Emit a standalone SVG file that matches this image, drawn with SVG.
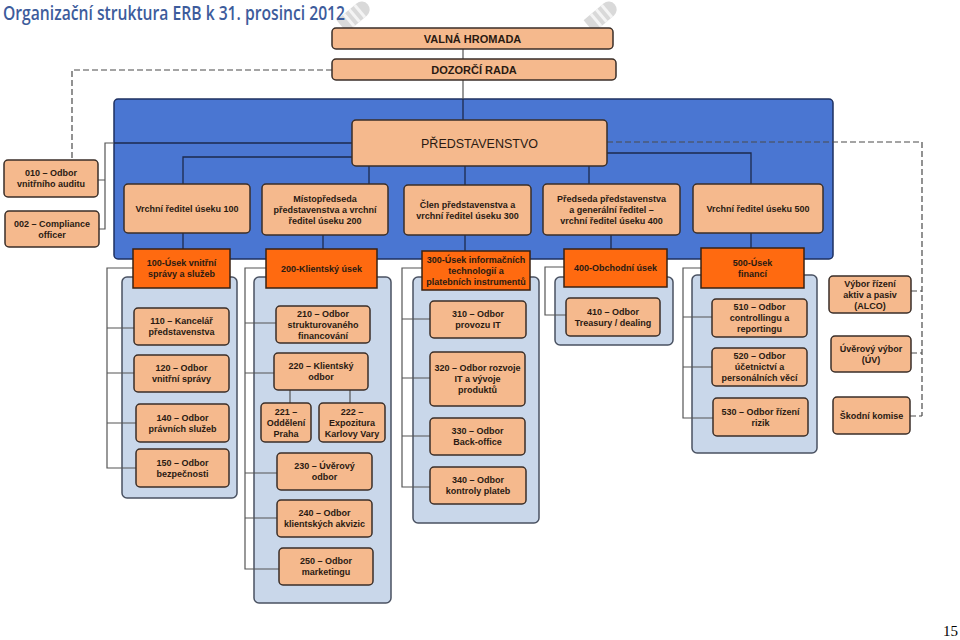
<svg xmlns="http://www.w3.org/2000/svg" width="960" height="640" viewBox="0 0 960 640">
<style>
.bx{fill:#f5b98d;stroke:#3a2e28;stroke-width:1.5}
.or{fill:#ff6a10;stroke:#3a2212;stroke-width:1.5}
.lb{fill:#c9d7ea;stroke:#4a5262;stroke-width:1.5}
.t{font-family:"Liberation Sans",Arial,sans-serif;font-size:9px;font-weight:bold;fill:#2a1a12;text-anchor:middle}
.tb{font-family:"Liberation Sans",Arial,sans-serif;font-size:11px;font-weight:bold;fill:#2a1a12;text-anchor:middle}
.nv{fill:none;stroke:#1c2a4e;stroke-width:1.3}
.gy{fill:none;stroke:#555;stroke-width:1.2}
.ds{fill:none;stroke:#4a4a4a;stroke-width:1.2;stroke-dasharray:6,3}
</style>
<rect width="960" height="640" fill="#fff"/>
<g id="decor" fill="#d9d9d9">
<g transform="translate(354,16) rotate(-40)"><path d="M-16,-8H10A8,8 0 0 1 10,8H-16Z"/><rect x="-8" y="-8" width="3" height="16" fill="#f4f4f4"/><rect x="-1" y="-8" width="3" height="16" fill="#f4f4f4"/><rect x="6" y="-8" width="3" height="16" fill="#f4f4f4"/></g>
<g transform="translate(601,16) rotate(-40)"><path d="M-16,-8H10A8,8 0 0 1 10,8H-16Z"/><rect x="-8" y="-8" width="3" height="16" fill="#f4f4f4"/><rect x="-1" y="-8" width="3" height="16" fill="#f4f4f4"/><rect x="6" y="-8" width="3" height="16" fill="#f4f4f4"/></g>
</g>
<text x="3" y="20" font-family="'Open Sans','Noto Sans',sans-serif" font-size="19" font-weight="600" fill="#3d5c9c" textLength="342" lengthAdjust="spacingAndGlyphs">Organizační struktura ERB k 31. prosinci 2012</text>
<text x="958" y="636" font-family="'Liberation Serif',serif" font-size="15" fill="#000" text-anchor="end">15</text>

<g id="frames">
<rect id="board-frame" x="114" y="99" width="719" height="160" rx="4" fill="#4a76d2" stroke="#1e3060" stroke-width="1.5"/>
<rect id="col100" class="lb" x="122" y="277" width="115" height="221" rx="5"/>
<rect id="col200" class="lb" x="254" y="277" width="137" height="326" rx="5"/>
<rect id="col300" class="lb" x="413" y="277" width="126" height="246" rx="5"/>
<rect id="col400" class="lb" x="555" y="277" width="118" height="68" rx="5"/>
<rect id="col500" class="lb" x="692" y="275" width="125" height="178" rx="5"/>
</g>

<g id="connectors">
<path class="gy" d="M463,49V59M463,80V99"/>
<path class="nv" d="M463,99V120"/>
<path class="nv" d="M352,143H114"/>
<path class="gy" d="M114,143H105V229H99M105,180H98"/>
<path class="nv" d="M352,157H183V184M369,166V184M465,166V185M589,166V184M607,153H751V184"/>
<path class="nv" d="M183,233V249M323,235V249M465,235V251M611,235V249M751,233V248"/>
<path class="ds" d="M332,70H72V160"/>
<path class="ds" d="M607,142H922V416M911,291H922M911,353H922M910,416H922"/>
<path class="gy" d="M133,268H107V468H136M107,328H134M107,373H134M107,423H136"/>
<path class="gy" d="M266,268H245V569H279M245,323H276M245,373H274M245,473H277M245,518H277M290,390V403M350,390V403"/>
<path class="gy" d="M422,268H402V487H430M402,319H430M402,378H430M402,436H430"/>
<path class="gy" d="M564,267H545V315H566"/>
<path class="gy" d="M701,268H683V418H713M683,317H712M683,367H712"/>
</g>

<g id="valna-hromada"><rect class="bx" x="332" y="28" width="281" height="21" rx="4"/><text class="tb" x="472.5" y="42.5">VALNÁ HROMADA</text></g>
<g id="dozorci-rada"><rect class="bx" x="332" y="59" width="284" height="21" rx="4"/><text class="tb" x="474" y="73.5">DOZORČÍ RADA</text></g>
<g id="predstavenstvo"><rect class="bx" x="352" y="120" width="255" height="46" rx="4"/><text x="479.5" y="147.5" font-family="'Liberation Sans',Arial,sans-serif" font-size="12.5" fill="#2a1a12" text-anchor="middle">PŘEDSTAVENSTVO</text></g>

<g id="n010"><rect class="bx" x="4" y="160" width="94" height="37" rx="4"/><text class="t" x="51" y="176.2">010 –  Odbor<tspan x="51" dy="11">vnitřního auditu</tspan></text></g>
<g id="n002"><rect class="bx" x="5" y="211" width="94" height="36" rx="4"/><text class="t" x="52" y="226.7">002 – Compliance<tspan x="52" dy="11">officer</tspan></text></g>

<g id="r100"><rect class="bx" x="124" y="184" width="126" height="49" rx="4"/><text class="t" x="187" y="211.7">Vrchní ředitel úseku 100</text></g>
<g id="r200"><rect class="bx" x="262" y="184" width="126" height="51" rx="4"/><text class="t" x="325" y="201.7">Místopředseda<tspan x="325" dy="11">představenstva a vrchní</tspan><tspan x="325" dy="11">ředitel úseku 200</tspan></text></g>
<g id="r300"><rect class="bx" x="404" y="185" width="127" height="50" rx="4"/><text class="t" x="467.5" y="207.7">Člen představenstva a<tspan x="467.5" dy="11">vrchní ředitel úseku 300</tspan></text></g>
<g id="r400"><rect class="bx" x="543" y="184" width="137" height="51" rx="4"/><text class="t" x="611.5" y="201.7">Předseda představenstva<tspan x="611.5" dy="11">a generální ředitel –</tspan><tspan x="611.5" dy="11">vrchní ředitel úseku 400</tspan></text></g>
<g id="r500"><rect class="bx" x="693" y="184" width="130" height="49" rx="4"/><text class="t" x="758" y="211.7">Vrchní ředitel úseku 500</text></g>

<g id="u100"><rect class="or" x="133" y="249" width="97" height="39"/><text class="t" x="181.5" y="266.2">100-Úsek vnitřní<tspan x="181.5" dy="11">správy a služeb</tspan></text></g>
<g id="u200"><rect class="or" x="266" y="249" width="111" height="39"/><text class="t" x="321.5" y="271.7">200-Klientský úsek</text></g>
<g id="u300"><rect class="or" x="422" y="251" width="108" height="39"/><text class="t" x="476" y="262.7">300-Úsek informačních<tspan x="476" dy="11">technologií a</tspan><tspan x="476" dy="11">platebních instrumentů</tspan></text></g>
<g id="u400"><rect class="or" x="564" y="249" width="103" height="38"/><text class="t" x="615.5" y="271.2">400-Obchodní úsek</text></g>
<g id="u500"><rect class="or" x="701" y="248" width="103" height="40"/><text class="t" x="752.5" y="265.7">500-Úsek<tspan x="752.5" dy="11">financí</tspan></text></g>

<g id="n110"><rect class="bx" x="134" y="308" width="95" height="37" rx="4"/><text class="t" x="181.5" y="324.2">110 – Kancelář<tspan x="181.5" dy="11">představenstva</tspan></text></g>
<g id="n120"><rect class="bx" x="134" y="355" width="95" height="37" rx="4"/><text class="t" x="181.5" y="371.2">120 – Odbor<tspan x="181.5" dy="11">vnitřní správy</tspan></text></g>
<g id="n140"><rect class="bx" x="136" y="404" width="93" height="38" rx="4"/><text class="t" x="182.5" y="420.7">140 –  Odbor<tspan x="182.5" dy="11">právních služeb</tspan></text></g>
<g id="n150"><rect class="bx" x="136" y="449" width="93" height="38" rx="4"/><text class="t" x="182.5" y="465.7">150 –  Odbor<tspan x="182.5" dy="11">bezpečnosti</tspan></text></g>

<g id="n210"><rect class="bx" x="276" y="306" width="94" height="37" rx="4"/><text class="t" x="323" y="316.7">210 – Odbor<tspan x="323" dy="11">strukturovaného</tspan><tspan x="323" dy="11">financování</tspan></text></g>
<g id="n220"><rect class="bx" x="274" y="353" width="94" height="37" rx="4"/><text class="t" x="321" y="369.2">220 – Klientský<tspan x="321" dy="11">odbor</tspan></text></g>
<g id="n221"><rect class="bx" x="261" y="403" width="50" height="39" rx="4"/><text class="t" x="286" y="414.7">221 –<tspan x="286" dy="11">Oddělení</tspan><tspan x="286" dy="11">Praha</tspan></text></g>
<g id="n222"><rect class="bx" x="319" y="403" width="66" height="39" rx="4"/><text class="t" x="352" y="414.7">222 –<tspan x="352" dy="11">Expozitura</tspan><tspan x="352" dy="11">Karlovy Vary</tspan></text></g>
<g id="n230"><rect class="bx" x="277" y="453" width="95" height="37" rx="4"/><text class="t" x="324.5" y="469.2">230 – Úvěrový<tspan x="324.5" dy="11">odbor</tspan></text></g>
<g id="n240"><rect class="bx" x="277" y="500" width="95" height="37" rx="4"/><text class="t" x="324.5" y="516.2">240 – Odbor<tspan x="324.5" dy="11">klientských akvizic</tspan></text></g>
<g id="n250"><rect class="bx" x="279" y="548" width="94" height="37" rx="4"/><text class="t" x="326" y="564.2">250 – Odbor<tspan x="326" dy="11">marketingu</tspan></text></g>

<g id="n310"><rect class="bx" x="430" y="301" width="96" height="37" rx="4"/><text class="t" x="478" y="317.2">310 – Odbor<tspan x="478" dy="11">provozu IT</tspan></text></g>
<g id="n320"><rect class="bx" x="430" y="352" width="95" height="54" rx="4"/><text class="t" x="477.5" y="371.2">320 – Odbor rozvoje<tspan x="477.5" dy="11">IT a vývoje</tspan><tspan x="477.5" dy="11">produktů</tspan></text></g>
<g id="n330"><rect class="bx" x="430" y="418" width="95" height="37" rx="4"/><text class="t" x="477.5" y="434.2">330 – Odbor<tspan x="477.5" dy="11">Back-office</tspan></text></g>
<g id="n340"><rect class="bx" x="430" y="467" width="96" height="37" rx="4"/><text class="t" x="478" y="483.2">340 – Odbor<tspan x="478" dy="11">kontroly plateb</tspan></text></g>

<g id="n410"><rect class="bx" x="566" y="298" width="94" height="38" rx="4"/><text class="t" x="613" y="314.7">410 – Odbor<tspan x="613" dy="11">Treasury / dealing</tspan></text></g>

<g id="n510"><rect class="bx" x="712" y="299" width="95" height="38" rx="4"/><text class="t" x="759.5" y="310.2">510 – Odbor<tspan x="759.5" dy="11">controllingu a</tspan><tspan x="759.5" dy="11">reportingu</tspan></text></g>
<g id="n520"><rect class="bx" x="712" y="348" width="95" height="38" rx="4"/><text class="t" x="759.5" y="359.2">520 – Odbor<tspan x="759.5" dy="11">účetnictví a</tspan><tspan x="759.5" dy="11">personálních věcí</tspan></text></g>
<g id="n530"><rect class="bx" x="713" y="398" width="95" height="38" rx="4"/><text class="t" x="760.5" y="414.7">530 – Odbor řízení<tspan x="760.5" dy="11">rizik</tspan></text></g>

<g id="alco"><rect class="bx" x="829" y="276" width="82" height="37" rx="4"/><text class="t" x="870" y="286.7">Výbor řízení<tspan x="870" dy="11">aktiv a pasiv</tspan><tspan x="870" dy="11">(ALCO)</tspan></text></g>
<g id="uv"><rect class="bx" x="831" y="336" width="80" height="36" rx="4"/><text class="t" x="871" y="351.7">Úvěrový výbor<tspan x="871" dy="11">(ÚV)</tspan></text></g>
<g id="skodni"><rect class="bx" x="833" y="397" width="77" height="37" rx="4"/><text class="t" x="871.5" y="418.7">Škodní komise</text></g>
</svg>
